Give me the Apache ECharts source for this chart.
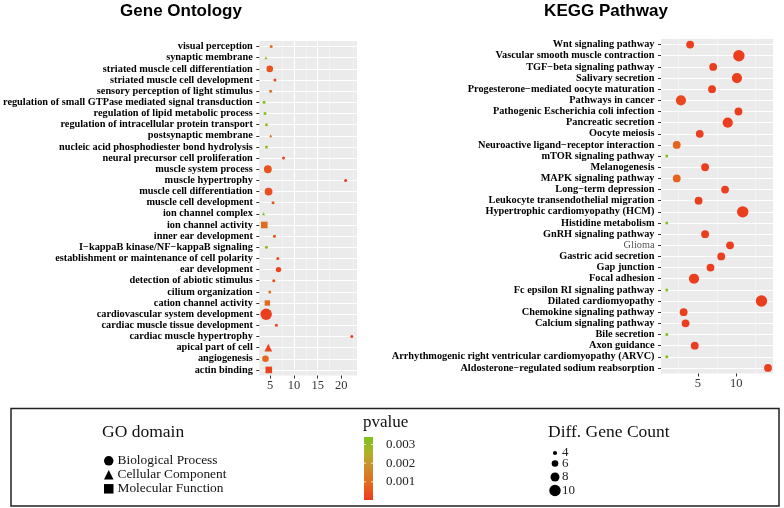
<!DOCTYPE html>
<html>
<head>
<meta charset="utf-8">
<script src="https://cdn.jsdelivr.net/npm/echarts@6/dist/echarts.min.js"></script>
<style>
  html, body { margin: 0; padding: 0; background: #fff; }
  #chart { width: 784px; height: 508px; }
</style>
</head>
<body>
<div id="chart"></div>
<script>
// GO terms, listed top to bottom as in the figure
const goTerms = [
  'visual perception', 'synaptic membrane', 'striated muscle cell differentiation',
  'striated muscle cell development', 'sensory perception of light stimulus',
  'regulation of small GTPase mediated signal transduction', 'regulation of lipid metabolic process',
  'regulation of intracellular protein transport', 'postsynaptic membrane',
  'nucleic acid phosphodiester bond hydrolysis', 'neural precursor cell proliferation',
  'muscle system process', 'muscle hypertrophy', 'muscle cell differentiation',
  'muscle cell development', 'ion channel complex', 'ion channel activity',
  'inner ear development', 'I\u2212kappaB kinase/NF\u2212kappaB signaling',
  'establishment or maintenance of cell polarity', 'ear development',
  'detection of abiotic stimulus', 'cilium organization', 'cation channel activity',
  'cardiovascular system development', 'cardiac muscle tissue development',
  'cardiac muscle hypertrophy', 'apical part of cell', 'angiogenesis', 'actin binding'
];
const goEnrich = [5.2, 4.1, 4.9, 6.0, 5.1, 3.7, 3.9, 4.2, 5.1, 4.2, 7.8, 4.5, 20.9, 4.65, 5.6,
  3.6, 3.75, 5.9, 4.2, 6.6, 6.75, 5.75, 4.9, 4.4, 4.15, 6.3, 22.2, 4.6, 4.0, 4.7];
const goCount = [3, 3, 6, 3, 3, 3, 3, 3, 3, 3, 3, 7, 3, 7, 3, 3, 6, 3, 3, 3, 5, 3, 3, 5, 10, 3, 3, 7, 6, 6];
const goPvalue = [0.0011, 0.0029, 0.0005, 0.0002, 0.0011, 0.0033, 0.0031, 0.003, 0.0011, 0.0031,
  0.0002, 0.0005, 0.0001, 0.0004, 0.0005, 0.0033, 0.001, 0.0005, 0.0031, 0.0003,
  0.0002, 0.0004, 0.0011, 0.001, 0.0001, 0.0003, 0.0001, 0.0003, 0.0009, 0.0002];
const goDomain = ['BP', 'CC', 'BP', 'BP', 'BP', 'BP', 'BP', 'BP', 'CC', 'BP', 'BP', 'BP', 'BP', 'BP', 'BP',
  'CC', 'MF', 'BP', 'BP', 'BP', 'BP', 'BP', 'BP', 'MF', 'BP', 'BP', 'BP', 'CC', 'BP', 'MF'];

// KEGG pathways, top to bottom
const keggTerms = [
  'Wnt signaling pathway', 'Vascular smooth muscle contraction', 'TGF\u2212beta signaling pathway',
  'Salivary secretion', 'Progesterone\u2212mediated oocyte maturation', 'Pathways in cancer',
  'Pathogenic Escherichia coli infection', 'Pancreatic secretion', 'Oocyte meiosis',
  'Neuroactive ligand\u2212receptor interaction', 'mTOR signaling pathway', 'Melanogenesis',
  'MAPK signaling pathway', 'Long\u2212term depression', 'Leukocyte transendothelial migration',
  'Hypertrophic cardiomyopathy (HCM)', 'Histidine metabolism', 'GnRH signaling pathway', 'Glioma',
  'Gastric acid secretion', 'Gap junction', 'Focal adhesion', 'Fc epsilon RI signaling pathway',
  'Dilated cardiomyopathy', 'Chemokine signaling pathway', 'Calcium signaling pathway',
  'Bile secretion', 'Axon guidance', 'Arrhythmogenic right ventricular cardiomyopathy (ARVC)',
  'Aldosterone\u2212regulated sodium reabsorption'
];
const keggEnrich = [4.0, 10.35, 7.0, 10.1, 6.85, 2.8, 10.3, 8.9, 5.25, 2.25, 0.95, 5.95, 2.25, 8.55, 5.1,
  10.85, 0.95, 5.95, 9.2, 8.05, 6.65, 4.5, 0.95, 13.3, 3.15, 3.4, 0.95, 4.6, 0.95, 14.15];
const keggCount = [7, 10, 7, 9, 7, 9, 7, 9, 7, 7, 3, 7, 7, 7, 7, 10, 3, 7, 7, 7, 7, 9, 3, 10, 7, 7, 3, 7, 3, 7];
const keggPvalue = [0.0001, 0.0001, 0.0001, 0.0001, 0.0001, 0.0003, 0.0001, 0.0001, 0.0001, 0.0008,
  0.0033, 0.0001, 0.0008, 0.0001, 0.0001, 0.0001, 0.0033, 0.0001, 0.0001, 0.0001,
  0.0001, 0.0001, 0.0033, 0.0001, 0.0001, 0.0001, 0.0033, 0.0001, 0.0033, 0.0001];

// axis breaks and legend keys
const goTicks = [5, 10, 15, 20];
const goMinor = [7.5, 12.5, 17.5, 22.5];
const keggTicks = [5, 10];
const keggMinor = [2.5, 7.5, 12.5];
const pvalueTicks = [0.001, 0.002, 0.003];
const countBreaks = [4, 6, 8, 10];
const domainCodes = ['BP', 'CC', 'MF'];
const domainNames = ['Biological Process', 'Cellular Component', 'Molecular Function'];
const domainIcons = ['circle', 'triangle', 'rect'];

const serif = 'Liberation Serif';
const pMin = 0.00003, pMax = 0.0034;
const pColors = ['#EC3A1E', '#E4671D', '#D0892A', '#AFB12A', '#7BC31A'];
const sizeOf = c => 1.2 * c - 0.6;

let chart = echarts.init(document.getElementById('chart'));

const catAxis = (terms, idx) => ({
  type: 'category',
  gridIndex: idx,
  data: terms.slice().reverse(),
  axisLine: { show: false },
  axisTick: { show: true, length: 3, alignWithLabel: true, interval: 0, lineStyle: { color: '#333' } },
  axisLabel: {
    interval: 0, margin: 6.5, fontFamily: serif, fontSize: 10.3, fontWeight: 'bold', color: '#000',
    formatter: v => v === 'Glioma' ? '{g|' + v + '}' : v,
    rich: { g: { fontFamily: serif, fontSize: 10.3, fontWeight: 'normal', color: '#555' } }
  },
  splitLine: { show: true, interval: 0, alignWithLabel: true, lineStyle: { color: '#fff', width: 1 } }
});

const valAxis = (idx, min, max, split, ticks) => ({
  type: 'value',
  gridIndex: idx,
  min: min,
  max: max,
  splitNumber: split,
  axisLine: { show: false },
  axisTick: { show: true, length: 3, customValues: ticks, lineStyle: { color: '#333' } },
  axisLabel: {
    customValues: ticks, margin: 4, fontFamily: serif, fontSize: 12.5, color: '#333',
    formatter: v => ticks.indexOf(v) >= 0 ? String(v) : ''
  },
  splitLine: { show: true, showMinLine: false, showMaxLine: false, lineStyle: { color: '#fff', width: 1 } }
});

// thin minor grid lines, kept under the points
const minorLines = (idx, breaks) => ({
  type: 'line',
  xAxisIndex: idx,
  yAxisIndex: idx,
  data: [],
  z: 1,
  silent: true,
  markLine: {
    z: 1,
    silent: true,
    symbol: 'none',
    label: { show: false },
    lineStyle: { color: '#F7F7F7', width: 0.6, type: 'solid' },
    data: breaks.map(v => ({ xAxis: v }))
  }
});

let series = [minorLines(0, goMinor)];
domainCodes.forEach((code, k) => {
  let data = [];
  goTerms.forEach((t, i) => {
    if (goDomain[i] === code) data.push([goEnrich[i], t, goCount[i], goPvalue[i]]);
  });
  series.push({
    name: domainNames[k],
    type: 'scatter',
    xAxisIndex: 0,
    yAxisIndex: 0,
    symbol: domainIcons[k],
    symbolSize: v => sizeOf(v[2]),
    itemStyle: { opacity: 1, borderWidth: 0 },
    z: 6,
    data: data
  });
});
series.push(minorLines(1, keggMinor));
series.push({
  name: 'KEGG',
  type: 'scatter',
  xAxisIndex: 1,
  yAxisIndex: 1,
  symbol: 'circle',
  symbolSize: v => sizeOf(v[2]),
  itemStyle: { opacity: 1, borderWidth: 0 },
  z: 6,
  data: keggTerms.map((t, i) => [keggEnrich[i], t, keggCount[i], keggPvalue[i]])
});

// colour bar geometry
const barLeft = 364, barTop = 437, barW = 9, barH = 63;
const pToY = p => barTop + (1 - (p - pMin) / (pMax - pMin)) * barH;

let graphics = [
  { type: 'rect', shape: { x: 11, y: 408.5, width: 768, height: 97.5 },
    style: { fill: 'none', stroke: '#222', lineWidth: 1.5 }, z: 10 },
  { type: 'rect', shape: { x: barLeft, y: barTop, width: barW, height: barH },
    style: { fill: { type: 'linear', x: 0, y: 1, x2: 0, y2: 0,
      colorStops: pColors.map((c, i) => ({ offset: i / (pColors.length - 1), color: c })) } }, z: 10 },
  { type: 'text', left: 102, top: 423, style: { text: 'GO domain', font: '17.5px ' + serif, fill: '#111' }, z: 10 },
  { type: 'text', left: 363, top: 414, style: { text: 'pvalue', font: '17px ' + serif, fill: '#111' }, z: 10 },
  { type: 'text', left: 548, top: 423, style: { text: 'Diff. Gene Count', font: '17.5px ' + serif, fill: '#111' }, z: 10 }
];
pvalueTicks.forEach(p => {
  let y = pToY(p);
  graphics.push({ type: 'line', shape: { x1: barLeft, y1: y, x2: barLeft + 2, y2: y },
    style: { stroke: '#fff', lineWidth: 0.8 }, z: 12 });
  graphics.push({ type: 'line', shape: { x1: barLeft + barW - 2, y1: y, x2: barLeft + barW, y2: y },
    style: { stroke: '#fff', lineWidth: 0.8 }, z: 12 });
  graphics.push({ type: 'text', x: 386, y: y, style: { text: p.toFixed(3), font: '13px ' + serif,
    fill: '#222', textVerticalAlign: 'middle' }, z: 10 });
});
const keyY = [453, 463.5, 477, 490.5];
countBreaks.forEach((c, i) => {
  graphics.push({ type: 'circle', shape: { cx: 555, cy: keyY[i], r: sizeOf(c) / 2 },
    style: { fill: '#000' }, z: 10 });
  graphics.push({ type: 'text', x: 562, y: keyY[i], style: { text: String(c), font: '13px ' + serif,
    fill: '#222', textVerticalAlign: 'middle' }, z: 10 });
});

chart.setOption({
  animation: false,
  backgroundColor: '#fff',
  title: [
    { text: 'Gene Ontology', left: 181, top: 3, textAlign: 'center', padding: 0,
      textStyle: { fontFamily: 'Liberation Sans', fontWeight: 'bold', fontSize: 17, color: '#000' } },
    { text: 'KEGG Pathway', left: 606, top: 3, textAlign: 'center', padding: 0,
      textStyle: { fontFamily: 'Liberation Sans', fontWeight: 'bold', fontSize: 17, color: '#000' } }
  ],
  grid: [
    { left: 259, right: 427, top: 41, bottom: 132.5, show: true, backgroundColor: '#EBEBEB', borderWidth: 0 },
    { left: 661, right: 11, top: 39, bottom: 134.5, show: true, backgroundColor: '#EBEBEB', borderWidth: 0 }
  ],
  xAxis: [valAxis(0, 2.7, 23.3, 5, goTicks), valAxis(1, 0.2, 14.8, 3, keggTicks)],
  yAxis: [catAxis(goTerms, 0), catAxis(keggTerms, 1)],
  legend: {
    data: domainNames.map((n, i) => ({ name: n, icon: domainIcons[i], itemStyle: { color: '#000' } })),
    orient: 'vertical',
    left: 104,
    top: 454.3,
    padding: 0,
    itemWidth: 9.5,
    itemHeight: 9.5,
    itemGap: 1,
    selectedMode: false,
    textStyle: { fontFamily: serif, fontSize: 13.4, color: '#111', padding: [0, 0, 0, -1] }
  },
  visualMap: {
    type: 'continuous',
    min: pMin,
    max: pMax,
    dimension: 3,
    seriesIndex: [1, 2, 3, 5],
    show: false,
    inRange: { color: pColors }
  },
  graphic: graphics,
  series: series
});
</script>
</body>
</html>
